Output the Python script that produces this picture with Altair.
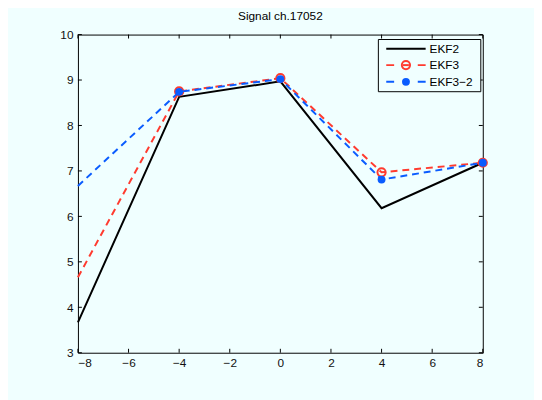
import altair as alt
import pandas as pd

x_vals = [-8, -4, 0, 4, 8]
ekf2 = [3.67, 8.63, 8.97, 6.18, 7.18]
ekf3 = [4.66, 8.75, 9.04, 6.97, 7.18]
ekf3_2 = [6.67, 8.74, 9.02, 6.81, 7.18]
marker_x = [-4, 0, 4, 8]
x_ticks = [-8, -6, -4, -2, 0, 2, 4, 6, 8]
y_ticks = [3, 4, 5, 6, 7, 8, 9, 10]
title_text = "Signal ch.17052"
names = ["EKF2", "EKF3", "EKF3\u22122"]

BG = "#F0FFFF"
RED = "#FF3B2F"
BLUE = "#0A5CFF"
FONT = "Liberation Sans"
W, H = 411, 323

df = pd.DataFrame({"x": x_vals, "ekf2": ekf2, "ekf3": ekf3, "ekf3_2": ekf3_2})
dm = df[df["x"].isin(marker_x)]
xt = pd.DataFrame({"t": x_ticks})
yt = pd.DataFrame({"t": y_ticks})
one = pd.DataFrame({"a": [0]})

xscale = alt.Scale(domain=[-8, 8], nice=False, zero=False)
yscale = alt.Scale(domain=[3, 10], nice=False, zero=False)
xaxis = alt.Axis(values=x_ticks, ticks=False, domain=False, grid=False, title=None,
                 labelFont=FONT, labelFontSize=12, labelColor="#111", labelPadding=5)
yaxis = alt.Axis(values=y_ticks, ticks=False, domain=False, grid=False, title=None,
                 labelFont=FONT, labelFontSize=12, labelColor="#111", labelPadding=5)


def X(field):
    return alt.X(field, type="quantitative", scale=xscale, axis=xaxis)


def Y(field):
    return alt.Y(field, type="quantitative", scale=yscale, axis=yaxis)


base = alt.Chart(df)
bm = alt.Chart(dm)
l_ekf2 = base.mark_line(color="black", strokeWidth=2).encode(x=X("x"), y=Y("ekf2"))
l_ekf3 = base.mark_line(color=RED, strokeWidth=2, strokeDash=[7, 5]).encode(x=X("x"), y=Y("ekf3"))
p_ekf3 = bm.mark_point(shape="circle", size=70, filled=False, color=RED, strokeWidth=2,
                       opacity=1).encode(x=X("x"), y=Y("ekf3"))
l_ekf32 = base.mark_line(color=BLUE, strokeWidth=2, strokeDash=[7, 5]).encode(x=X("x"), y=Y("ekf3_2"))
p_ekf32 = bm.mark_point(shape="circle", size=64, filled=True, color=BLUE,
                        opacity=1).encode(x=X("x"), y=Y("ekf3_2"))

TL = 4
tb = alt.Chart(xt).mark_rule(color="black", strokeWidth=1).encode(
    x=X("t"), y=alt.value(H), y2=alt.value(H - TL))
tt = alt.Chart(xt).mark_rule(color="black", strokeWidth=1).encode(
    x=X("t"), y=alt.value(0), y2=alt.value(TL))
tlft = alt.Chart(yt).mark_rule(color="black", strokeWidth=1).encode(
    y=Y("t"), x=alt.value(0), x2=alt.value(TL))
trgt = alt.Chart(yt).mark_rule(color="black", strokeWidth=1).encode(
    y=Y("t"), x=alt.value(W), x2=alt.value(W - TL))

# legend
lx0, lx1, ly0, ly1 = 305, 409, 5, 58
rows = [14.5, 31, 48]
seg0, seg1, mx, tx = 313, 353, 333, 357
leg = [alt.Chart(one).mark_rect(fill=BG, stroke="black", strokeWidth=1).encode(
    x=alt.value(lx0), x2=alt.value(lx1), y=alt.value(ly0), y2=alt.value(ly1))]
leg.append(alt.Chart(one).mark_rule(color="black", strokeWidth=2).encode(
    x=alt.value(seg0), x2=alt.value(seg1), y=alt.value(rows[0])))
leg.append(alt.Chart(one).mark_rule(color=RED, strokeWidth=2, strokeDash=[8, 24]).encode(
    x=alt.value(seg0), x2=alt.value(seg1), y=alt.value(rows[1])))
leg.append(alt.Chart(one).mark_point(shape="circle", size=70, filled=False, color=RED,
                                     strokeWidth=2, opacity=1).encode(
    x=alt.value(mx), y=alt.value(rows[1])))
leg.append(alt.Chart(one).mark_rule(color=RED, strokeWidth=2).encode(
    x=alt.value(mx - 3), x2=alt.value(mx + 3), y=alt.value(rows[1])))
leg.append(alt.Chart(one).mark_rule(color=BLUE, strokeWidth=2, strokeDash=[8, 24]).encode(
    x=alt.value(seg0), x2=alt.value(seg1), y=alt.value(rows[2])))
leg.append(alt.Chart(one).mark_point(shape="circle", size=64, filled=True, color=BLUE,
                                     opacity=1).encode(
    x=alt.value(mx), y=alt.value(rows[2])))
for name, ry in zip(names, rows):
    leg.append(alt.Chart(one).mark_text(align="left", baseline="middle", font=FONT,
                                        fontSize=12, color="black").encode(
        x=alt.value(tx), y=alt.value(ry), text=alt.value(name)))

chart = alt.layer(
    l_ekf2, l_ekf3, p_ekf3, l_ekf32, p_ekf32, tb, tt, tlft, trgt, *leg
).properties(
    width=W, height=H,
    title=alt.TitleParams(title_text, font=FONT, fontSize=12, fontWeight="normal",
                          color="black", offset=6, anchor="middle"),
    background=BG,
    padding={"left": 71, "top": 24, "right": 52, "bottom": 45},
    autosize=alt.AutoSizeParams(type="none"),
).configure_view(stroke="black", strokeWidth=1, fill=BG)

chart.save("out.html", embed_options={"renderer": "svg", "actions": False})
